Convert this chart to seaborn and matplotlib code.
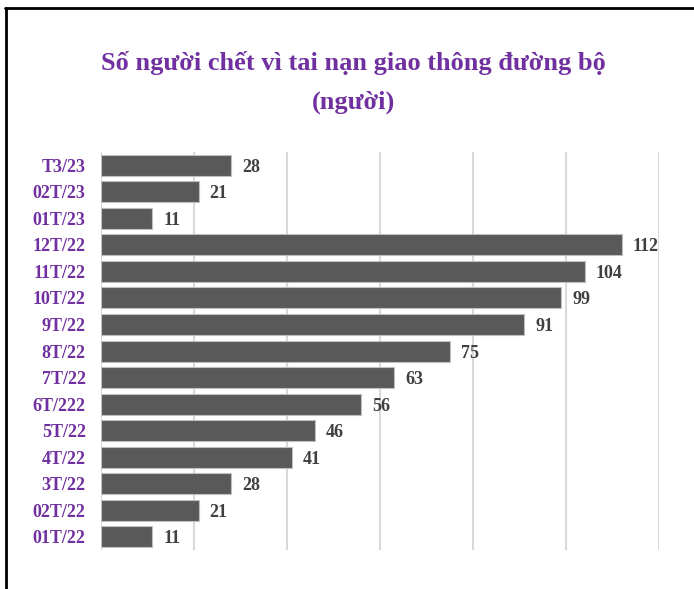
import matplotlib
matplotlib.use("Agg")
import matplotlib.pyplot as plt
from matplotlib.lines import Line2D
import pandas as pd
import seaborn as sns

# -------------------------------------
# Data
# -------------------------------------

months = ["T3/23", "02T/23", "01T/23", "12T/22", "11T/22", "10T/22", "9T/22",
          "8T/22", "7T/22", "6T/222", "5T/22", "4T/22", "3T/22", "02T/22", "01T/22"]
deaths = [28, 21, 11, 112, 104, 99, 91, 75, 63, 56, 46, 41, 28, 21, 11]

df = pd.DataFrame({"Tháng": months, "Số người": deaths})

purple = "#7030A0"
bar_color = "#595959"

# -------------------------------------
# Plot
# -------------------------------------

sns.set_style("white")
plt.rcParams['font.family'] = ['Liberation Serif', 'DejaVu Serif']
plt.rcParams['font.weight'] = 'bold'

fig = plt.figure(figsize=(6.94, 5.89), dpi=100)
ax = fig.add_axes([0.1455, 0.066, 0.804, 0.676])

sns.barplot(
    data=df,
    y="Tháng",
    x="Số người",
    orient="h",
    color=bar_color,
    saturation=1,
    width=0.79,
    edgecolor="#bfbfbf",
    linewidth=0.8,
    ax=ax
)

labels = ax.bar_label(ax.containers[0], padding=8, fontsize=13,
                      fontweight='bold', color="#404040")
for t in labels:
    t.set_va("center_baseline")

ax.set_xlim(0, 120)
ax.set_ylim(14.5, -0.5)
ax.set_xticks(range(0, 121, 20))
ax.xaxis.grid(True, color="#d9d9d9", linewidth=1.5)
ax.set_axisbelow(True)
ax.tick_params(axis='x', labelbottom=False, length=0)
ax.tick_params(axis='y', length=0, pad=11, labelsize=13, labelcolor=purple)
for lbl in ax.get_yticklabels():
    lbl.set_fontweight('bold')
ax.set_xlabel("")
ax.set_ylabel("")
for s in ax.spines.values():
    s.set_visible(False)

fig.text(0.509, 0.86, "Số người chết vì tai nạn giao thông đường bộ\n(người)",
         ha="center", va="center", fontsize=19, fontweight="bold",
         color=purple, linespacing=1.85)

# frame around the chart area
fig.add_artist(Line2D([0.008, 0.008], [0.0, 0.987], color="black", linewidth=2))
fig.add_artist(Line2D([0.007, 1.0], [0.987, 0.987], color="black", linewidth=2))

plt.savefig("out.png", dpi=100)
